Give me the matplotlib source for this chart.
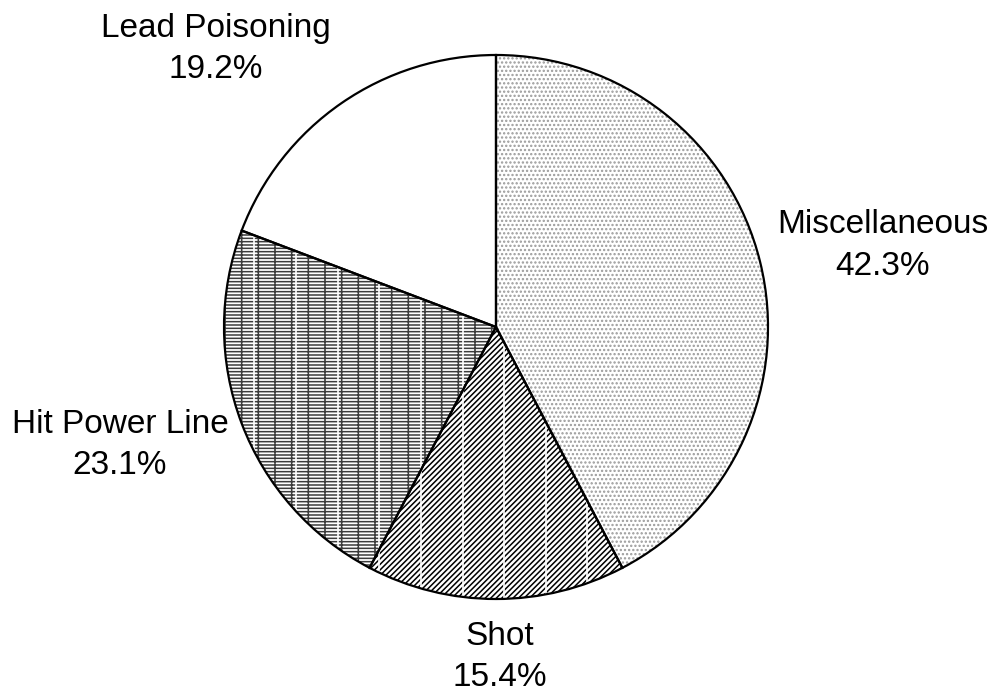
import matplotlib
matplotlib.use("Agg")
import matplotlib.pyplot as plt
import numpy as np

categories = ["Miscellaneous", "Shot", "Hit Power Line", "Lead Poisoning"]
values = [11, 4, 6, 5]
pct_labels = ["42.3%", "15.4%", "23.1%", "19.2%"]

hatches = ["....", "//////", "-----|", ""]
hatch_colors = ["#9a9a9a", "black", "#3c3c3c", "white"]
white_stripes = [False, True, True, False]

# label positions in pie-radius units (layout)
label_pos = [(1.423, 0.30), (0.015, -1.213), (-1.382, -0.434), (-1.029, 1.022)]

plt.rcParams["font.family"] = ["Liberation Sans", "DejaVu Sans"]
plt.rcParams["hatch.linewidth"] = 1.1

W, H = 995, 693
cx, cy, R = 496, 327, 272
fig = plt.figure(figsize=(W / 100, H / 100), dpi=100)
ax = fig.add_axes([0, 0, 1, 1])

wedges, _ = ax.pie(values, startangle=90, counterclock=False, radius=1.0,
                   wedgeprops=dict(linewidth=0, facecolor="white"))
for w, h, hc in zip(wedges, hatches, hatch_colors):
    w.set_hatch(h)
    w.set_edgecolor(hc)

# white vertical stripes within textured wedges
xs = -0.735 + 0.153 * np.arange(-2, 13)
for w, s in zip(wedges, white_stripes):
    if s:
        lc = ax.vlines(xs, -1.1, 1.1, colors="white", linewidth=1.2, zorder=w.get_zorder() + 0.1)
        lc.set_clip_path(w)

# outlines
wedges2, _ = ax.pie(values, startangle=90, counterclock=False, radius=1.0,
                    wedgeprops=dict(linewidth=1.6, edgecolor="black", fill=False))
for w in wedges2:
    w.set_zorder(5)

for cat, pct, (x, y) in zip(categories, pct_labels, label_pos):
    ax.text(x, y, f"{cat}\n{pct}", ha="center", va="center", fontsize=24,
            linespacing=1.45, color="black")

ax.set_aspect("auto")
ax.set_xlim(-cx / R, (W - cx) / R)
ax.set_ylim((cy - H) / R, cy / R)
ax.axis("off")

fig.savefig("out.png", dpi=100, facecolor="white")
